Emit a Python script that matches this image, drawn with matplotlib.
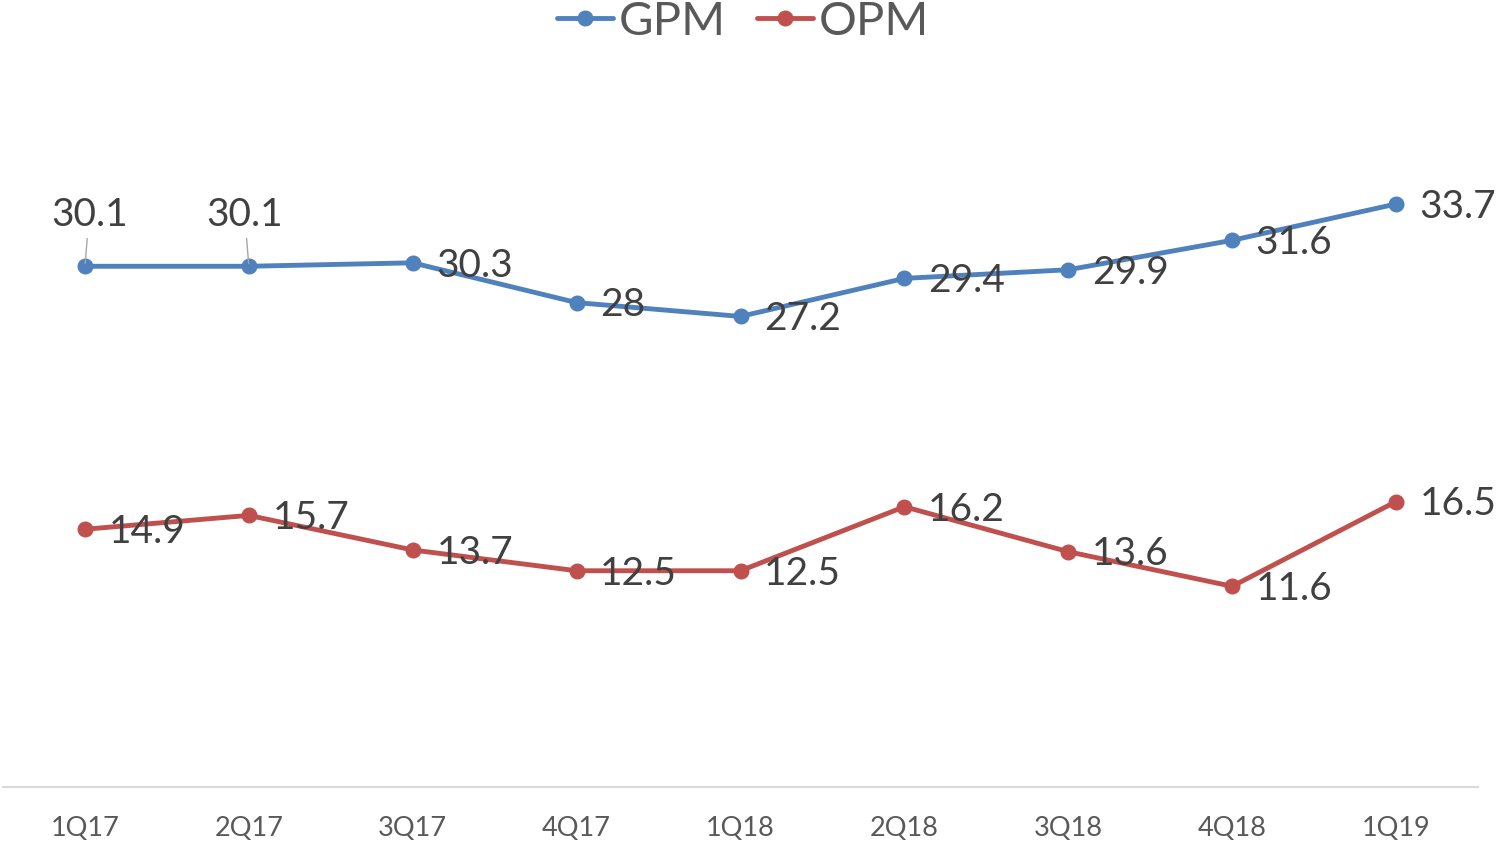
import matplotlib
matplotlib.use("Agg")
import matplotlib.pyplot as plt

categories = ["1Q17", "2Q17", "3Q17", "4Q17", "1Q18", "2Q18", "3Q18", "4Q18", "1Q19"]
gpm = [30.1, 30.1, 30.3, 28, 27.2, 29.4, 29.9, 31.6, 33.7]
opm = [14.9, 15.7, 13.7, 12.5, 12.5, 16.2, 13.6, 11.6, 16.5]
gpm_labels = ["30.1", "30.1", "30.3", "28", "27.2", "29.4", "29.9", "31.6", "33.7"]
opm_labels = ["14.9", "15.7", "13.7", "12.5", "12.5", "16.2", "13.6", "11.6", "16.5"]

plt.rcParams['font.family'] = ['Lato', 'DejaVu Sans']

W, H = 1497, 844
fig = plt.figure(figsize=(W / 100, H / 100), dpi=100)
ax = fig.add_axes([3 / W, (H - 787) / H, (1478 - 3) / W, (787 - 95) / H])

blue = "#4F81BD"
red = "#C0504D"
x = list(range(len(categories)))
ax.plot(x, gpm, color=blue, lw=3.5, marker="o", ms=10.5, label="GPM", solid_capstyle="round")
ax.plot(x, opm, color=red, lw=3.5, marker="o", ms=10.5, label="OPM", solid_capstyle="round")

ax.set_xlim(-0.5, len(categories) - 0.5)
ax.set_ylim(0, 40)
ax.set_xticks(x)
ax.set_xticklabels(categories, fontsize=19.5, color="#595959")
ax.tick_params(axis="x", length=0, pad=21)
ax.set_yticks([])
for s in ["top", "right", "left"]:
    ax.spines[s].set_visible(False)
ax.spines["bottom"].set_color("#D9D9D9")
ax.spines["bottom"].set_linewidth(1.5)

txtc = "#404040"
fs = 28
for i, (v, lab) in enumerate(zip(gpm, gpm_labels)):
    if i < 2:
        dx = 3 if i == 0 else -3
        ax.annotate(lab, (i, v), xytext=(dx, 37), textcoords="offset points",
                    ha="center", va="center", fontsize=fs, color=txtc,
                    arrowprops=dict(arrowstyle="-", color="#A6A6A6", lw=1,
                                    shrinkA=2, shrinkB=2))
    else:
        ax.annotate(lab, (i, v), xytext=(17, -2), textcoords="offset points",
                    ha="left", va="center", fontsize=fs, color=txtc)
for i, (v, lab) in enumerate(zip(opm, opm_labels)):
    ax.annotate(lab, (i, v), xytext=(17, -2), textcoords="offset points",
                ha="left", va="center", fontsize=fs, color=txtc)

fig.legend(loc="center", bbox_to_anchor=(743 / W, 1 - 22 / H), ncol=2, frameon=False,
           fontsize=34, labelcolor="#595959", handlelength=1.2, handletextpad=0.12,
           columnspacing=0.65, borderaxespad=0)

fig.savefig("out.png", dpi=100)
